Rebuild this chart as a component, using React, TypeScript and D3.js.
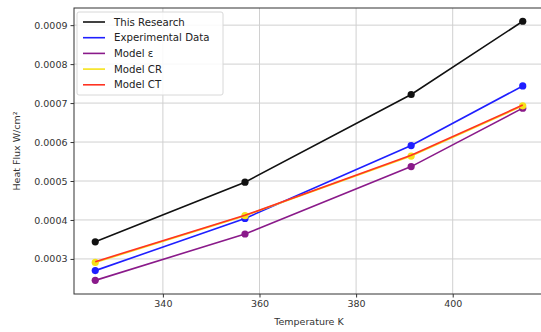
import React, { useEffect, useRef } from "react";
import * as d3 from "d3";

const temperatures = [326, 357, 391.4, 414.5];
const thisResearch = [0.000344, 0.000497, 0.000722, 0.00091];
const experimental = [0.00027, 0.000404, 0.000591, 0.000744];
const modelEps = [0.000245, 0.000364, 0.000537, 0.000687];
const modelCR = [0.000291, 0.000411, 0.000564, 0.000693];
const modelCT = [0.000293, 0.000412, 0.000566, 0.000695];
const xTicks = [340, 360, 380, 400];
const yTicks = [0.0003, 0.0004, 0.0005, 0.0006, 0.0007, 0.0008, 0.0009];

const series = [
  { label: "This Research", values: thisResearch, color: "#111111", markers: true },
  { label: "Experimental Data", values: experimental, color: "#1f1fff", markers: true },
  { label: "Model \u03b5", values: modelEps, color: "#8a1a8a", markers: true },
  { label: "Model CR", values: modelCR, color: "#f5e21a", markers: true },
  { label: "Model CT", values: modelCT, color: "#ff3322", markers: false },
];

const App = () => {
  const svgRef = useRef<SVGSVGElement>(null);

  useEffect(() => {
    const svg = d3.select(svgRef.current);
    svg.selectAll("*").remove();

    const left = 74, right = 544, top = 8, bottom = 294;
    const x = d3.scaleLinear().domain([321.6, 418.9]).range([left, right]);
    const y = d3.scaleLinear().domain([0.00021, 0.000944]).range([bottom, top]);
    const font = "DejaVu Sans, sans-serif";

    svg.append("rect").attr("width", 541).attr("height", 332).attr("fill", "#fff");

    // grid
    const grid = svg.append("g").attr("stroke", "#d0d0d0").attr("stroke-width", 1);
    xTicks.forEach((t) => {
      grid.append("line").attr("x1", x(t)).attr("x2", x(t)).attr("y1", top).attr("y2", bottom);
    });
    yTicks.forEach((t) => {
      grid.append("line").attr("x1", left).attr("x2", right).attr("y1", y(t)).attr("y2", y(t));
    });

    // lines and markers
    const line = d3
      .line<number>()
      .x((_, i) => x(temperatures[i]))
      .y((d) => y(d));

    series.forEach((s) => {
      svg
        .append("path")
        .attr("d", line(s.values))
        .attr("fill", "none")
        .attr("stroke", s.color)
        .attr("stroke-width", 1.6);
      if (s.markers) {
        svg
          .append("g")
          .selectAll("circle")
          .data(s.values)
          .enter()
          .append("circle")
          .attr("cx", (_, i) => x(temperatures[i]))
          .attr("cy", (d) => y(d))
          .attr("r", 3.6)
          .attr("fill", s.color);
      }
    });

    // spines
    svg
      .append("rect")
      .attr("x", left)
      .attr("y", top)
      .attr("width", right - left)
      .attr("height", bottom - top)
      .attr("fill", "none")
      .attr("stroke", "#333")
      .attr("stroke-width", 1);

    // x axis
    const xAxis = svg
      .append("g")
      .attr("transform", `translate(0,${bottom})`)
      .call(d3.axisBottom(x).tickValues(xTicks).tickSize(3.5).tickPadding(3).tickFormat(d3.format("d")));
    xAxis.select(".domain").remove();
    xAxis.selectAll("line").attr("stroke", "#333");
    xAxis.selectAll("text").attr("font-family", font).attr("font-size", 9.5).attr("fill", "#333");

    const yAxis = svg
      .append("g")
      .attr("transform", `translate(${left},0)`)
      .call(d3.axisLeft(y).tickValues(yTicks).tickSize(3.5).tickPadding(3).tickFormat(d3.format(".4f")));
    yAxis.select(".domain").remove();
    yAxis.selectAll("line").attr("stroke", "#333");
    yAxis.selectAll("text").attr("font-family", font).attr("font-size", 9.5).attr("fill", "#333");

    // axis labels
    svg
      .append("text")
      .attr("x", (left + right) / 2)
      .attr("y", 325)
      .attr("text-anchor", "middle")
      .attr("font-family", font)
      .attr("font-size", 9.5)
      .attr("fill", "#333")
      .text("Temperature K");

    svg
      .append("text")
      .attr("transform", `translate(20,${(top + bottom) / 2}) rotate(-90)`)
      .attr("text-anchor", "middle")
      .attr("font-family", font)
      .attr("font-size", 9.5)
      .attr("fill", "#333")
      .text("Heat Flux W/cm\u00b2");

    // legend
    const lg = svg.append("g");
    lg.append("rect")
      .attr("x", 77)
      .attr("y", 12)
      .attr("width", 146)
      .attr("height", 83)
      .attr("rx", 2)
      .attr("fill", "rgba(255,255,255,0.85)")
      .attr("stroke", "#d8d8d8");
    series.forEach((s, i) => {
      const yy = 22 + i * 15.7;
      lg.append("line")
        .attr("x1", 83)
        .attr("x2", 105)
        .attr("y1", yy)
        .attr("y2", yy)
        .attr("stroke", s.color)
        .attr("stroke-width", 1.6);
      lg.append("text")
        .attr("x", 114)
        .attr("y", yy)
        .attr("dy", "0.35em")
        .attr("font-family", font)
        .attr("font-size", 10.2)
        .attr("fill", "#222")
        .text(s.label);
    });
  }, []);

  return <svg ref={svgRef} width={541} height={332} style={{ position: "absolute", left: 0, top: 0 }} />;
};

export default App;
